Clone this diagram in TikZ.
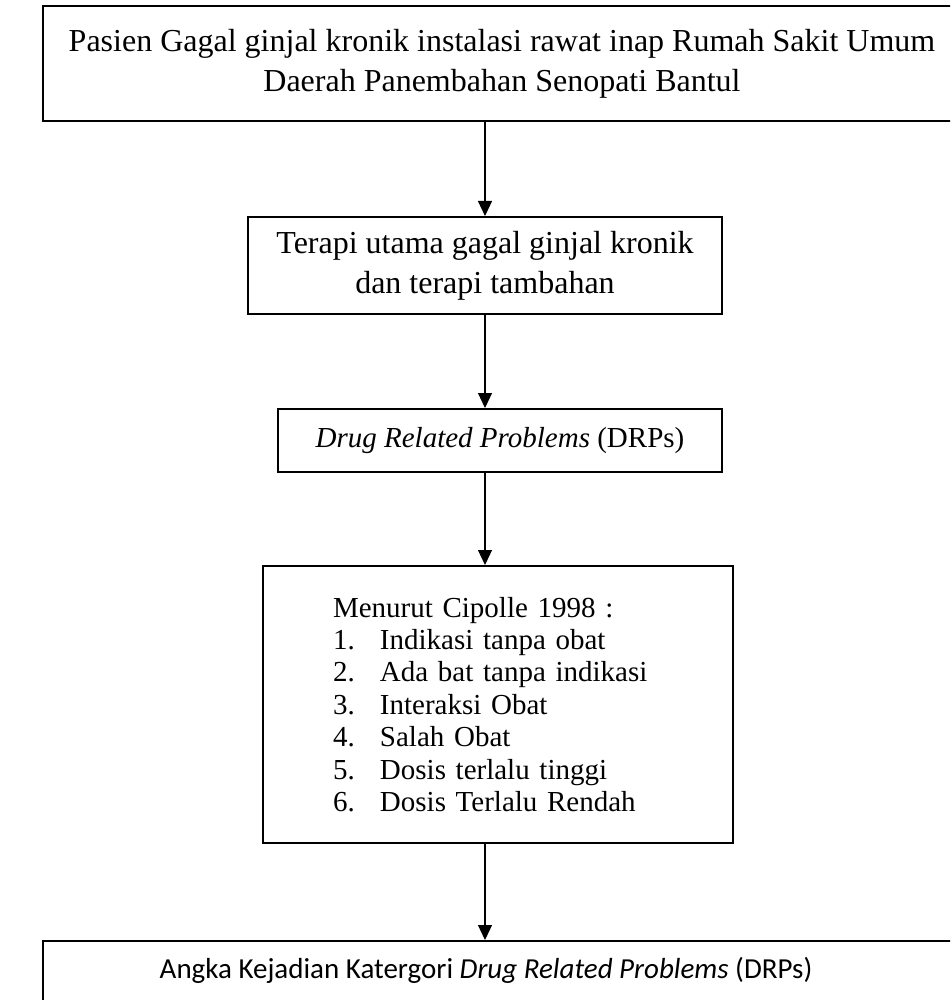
\documentclass[tikz,border=0pt]{standalone}
\usepackage{fontspec}
\setmainfont{Liberation Serif}
\newfontfamily\calibri{Carlito}
\usetikzlibrary{arrows.meta,positioning}
\newcommand{\butir}[2]{\makebox[47pt][l]{#1.}#2}

\begin{document}
\begin{tikzpicture}[x=1pt,y=-1pt,% styles for every box and arrow
		every node/.style={
			align=center,	% so that "\\" breaks the line
			inner sep=0pt
		},
		kotak/.style={rectangle,draw=black,line width=2pt},
		every edge/.style={draw,line width=1.2pt,-{Triangle[width=14pt,length=15pt]}}
	]
	\useasboundingbox (0,0) rectangle (950,1000);
	\clip (0,0) rectangle (950,1000);
	\coordinate (tengah) at (485,0);
	\node[kotak,minimum width=918pt,minimum height=115pt,font=\fontsize{32}{40}\selectfont](pasien) at (502,63.5){Pasien Gagal ginjal kronik instalasi rawat inap Rumah Sakit Umum\\ Daerah Panembahan Senopati Bantul};
	\node[kotak,minimum width=474pt,minimum height=97pt,font=\fontsize{32}{40}\selectfont](terapi) at (485,265.5){Terapi utama gagal ginjal kronik\\ dan terapi tambahan};
	\node[kotak,minimum width=444pt,minimum height=63pt,font=\fontsize{29}{34}\selectfont](drp) at (500,440.5){\textit{Drug Related Problems} (DRPs)};
	\node[kotak,minimum width=470pt,minimum height=277pt,text width=330pt,align=left,font=\fontsize{29}{32.4}\selectfont](cipolle) at (498,704.5){Menurut Cipolle 1998 :\\ \butir{1}{Indikasi tanpa obat}\\ \butir{2}{Ada bat tanpa indikasi}\\ \butir{3}{Interaksi Obat}\\ \butir{4}{Salah Obat}\\ \butir{5}{Dosis terlalu tinggi}\\ \butir{6}{Dosis Terlalu Rendah}};
	\node[kotak,anchor=north west,minimum width=940pt,minimum height=90pt](angka) at (42,940){};
	\node[font=\calibri\fontsize{29}{34}\selectfont](angkateks) at (486,970){Angka Kejadian Katergori \textit{Drug Related Problems} (DRPs)};
	\path
	(pasien.south -| tengah) edge (terapi.north -| tengah)
	(terapi.south -| tengah) edge (drp.north -| tengah)
	(drp.south -| tengah) edge (cipolle.north -| tengah)
	(cipolle.south -| tengah) edge (angka.north -| tengah)
	;
\end{tikzpicture}
\end{document}
